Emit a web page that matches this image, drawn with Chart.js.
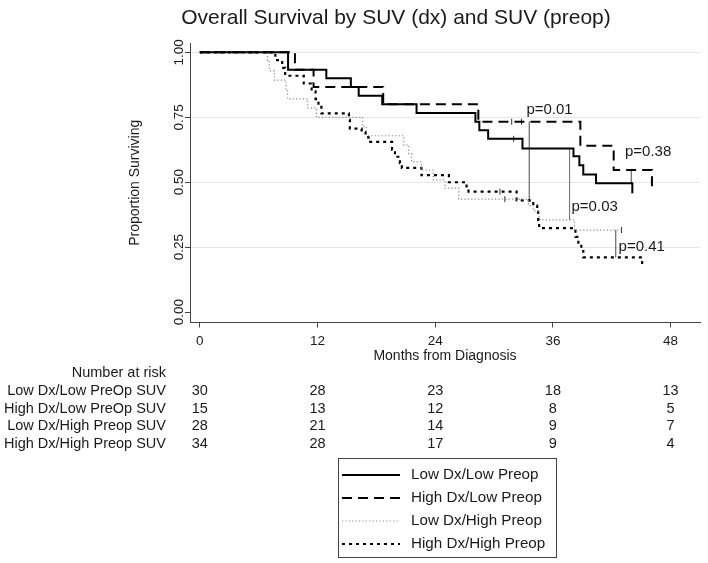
<!DOCTYPE html>
<html><head><meta charset="utf-8">
<script src="https://cdn.jsdelivr.net/npm/chart.js@4.4.1/dist/chart.umd.min.js"></script>
<style>html,body{margin:0;padding:0;background:#fff;}#wrap{width:708px;height:563px;}</style>
</head><body><div id="wrap"><canvas id="c" width="708" height="563"></canvas></div>
<script>
const FONT = '"Liberation Sans", Arial, Helvetica, sans-serif';
const titleText = 'Overall Survival by SUV (dx) and SUV (preop)';
const xTitle = 'Months from Diagnosis';
const yTitle = 'Proportion Surviving';
const xTicks = [0, 12, 24, 36, 48];
const yTicks = [0, 0.25, 0.5, 0.75, 1];
const seriesNames = ['Low Dx/Low Preop', 'High Dx/Low Preop', 'Low Dx/High Preop', 'High Dx/High Preop'];

// Kaplan-Meier step curves (time in months, survival proportion)
const lowLowT = [0, 9.0, 12.9, 15.4, 16.2, 18.6, 22.1, 28.1, 28.5, 29.4, 32.9, 38.1, 38.7, 39.1, 40.4, 44.1];
const lowLowS = [1, 0.933, 0.90, 0.867, 0.833, 0.80, 0.767, 0.733, 0.70, 0.667, 0.63, 0.60, 0.565, 0.53, 0.496, 0.458];
const highLowT = [0, 9.7, 11.6, 18.7, 28.4, 38.8, 42.2, 46.1];
const highLowS = [1, 0.933, 0.867, 0.80, 0.733, 0.64, 0.547, 0.464];
const lowHighT = [0, 6.9, 7.1, 7.6, 8.8, 8.95, 11.0, 11.9, 16.6, 17.0, 20.8, 21.3, 21.6, 22.6, 23.8, 25.0, 26.4, 33.5, 34.0, 34.6, 38.2, 43.0];
const lowHighS = [1, 0.964, 0.929, 0.893, 0.857, 0.821, 0.786, 0.75, 0.714, 0.679, 0.643, 0.61, 0.578, 0.547, 0.509, 0.477, 0.435, 0.41, 0.39, 0.355, 0.316, 0.316];
const highHighT = [0, 7.7, 8.4, 8.7, 10.6, 11.4, 11.8, 12.1, 12.4, 15.2, 15.3, 16.5, 16.9, 17.2, 19.6, 19.9, 20.4, 20.6, 22.6, 25.4, 27.2, 27.4, 32.3, 34.0, 34.4, 34.5, 34.6, 38.3, 38.6, 38.9, 39.1, 45.1];
const highHighS = [1, 0.97, 0.94, 0.91, 0.88, 0.85, 0.82, 0.79, 0.765, 0.74, 0.706, 0.693, 0.674, 0.655, 0.625, 0.598, 0.573, 0.555, 0.527, 0.50, 0.477, 0.464, 0.43, 0.41, 0.386, 0.355, 0.323, 0.29, 0.259, 0.235, 0.211, 0.175];

// censoring marks
const censorT = [32.0, 31.8, 32.8, 31.1, 43.0, 30.6];
const censorS = [0.667, 0.733, 0.733, 0.435, 0.316, 0.464];

// p-value comparison lines
const pLineT = [33.6, 37.7, 44.0, 42.4];
const pLineTop = [0.733, 0.63, 0.547, 0.316];
const pLineBottom = [0.425, 0.355, 0.496, 0.211];
const pLabels = ['p=0.01', 'p=0.03', 'p=0.38', 'p=0.41'];
const pLabelT = [33.3, 37.9, 43.35, 42.7];
const pLabelS = [0.777, 0.406, 0.618, 0.252];

// number at risk table
const riskHeader = 'Number at risk';
const riskLabels = ['Low Dx/Low PreOp SUV', 'High Dx/Low PreOp SUV', 'Low Dx/High Preop SUV', 'High Dx/High Preop SUV'];
const riskTimes = [0, 12, 24, 36, 48];
const riskLowLow = [30, 28, 23, 18, 13];
const riskHighLow = [15, 13, 12, 8, 5];
const riskLowHigh = [28, 21, 14, 9, 7];
const riskHighHigh = [34, 28, 17, 9, 4];

const zip = (t, s) => t.map((v, i) => ({x: v, y: s[i]}));
const styles = [
  {borderColor: '#000', borderWidth: 2, borderDash: []},
  {borderColor: '#000', borderWidth: 2, borderDash: [10, 6]},
  {borderColor: '#8a8a8a', borderWidth: 1.2, borderDash: [1.2, 2.2]},
  {borderColor: '#000', borderWidth: 2.2, borderDash: [3, 4]}
];
const kmSets = [[lowLowT, lowLowS], [highLowT, highLowS], [lowHighT, lowHighS], [highHighT, highHighS]];
const datasets = kmSets.map((d, i) => Object.assign({
  label: seriesNames[i], data: zip(d[0], d[1]), stepped: true, pointRadius: 0, fill: false, borderCapStyle: 'butt'
}, styles[i]));
pLineT.forEach((t, i) => datasets.push({
  label: 'p' + i, data: [{x: t, y: pLineTop[i]}, {x: t, y: pLineBottom[i]}],
  borderColor: '#7a7a7a', borderWidth: 1, pointRadius: 0, fill: false
}));
datasets.push({
  label: 'censor', data: zip(censorT, censorS), showLine: false,
  pointStyle: 'line', rotation: 90, pointRadius: 3, borderColor: '#333', borderWidth: 1
});

const annot = {
  id: 'annot',
  afterDraw(chart) {
    const {ctx, scales: {x, y}} = chart;
    ctx.save();
    ctx.fillStyle = '#1a1a1a';
    ctx.textBaseline = 'middle';
    ctx.font = '21px ' + FONT;
    ctx.textAlign = 'center';
    ctx.fillText(titleText, 396, 18);
    ctx.font = '15px ' + FONT;
    ctx.textAlign = 'left';
    pLabels.forEach((l, i) => ctx.fillText(l, x.getPixelForValue(pLabelT[i]), y.getPixelForValue(pLabelS[i])));
    // risk table
    ctx.font = '14.5px ' + FONT;
    ctx.textAlign = 'right';
    ctx.fillText(riskHeader, 166, 373);
    const rows = [riskLowLow, riskHighLow, riskLowHigh, riskHighHigh];
    rows.forEach((r, i) => {
      const yy = 391 + i * 17.7;
      ctx.textAlign = 'right';
      ctx.fillText(riskLabels[i], 166, yy);
      ctx.textAlign = 'center';
      r.forEach((v, j) => ctx.fillText(String(v), x.getPixelForValue(riskTimes[j]), yy));
    });
    // legend
    ctx.strokeStyle = '#444';
    ctx.lineWidth = 1;
    ctx.setLineDash([]);
    ctx.strokeRect(338.5, 458.5, 218, 99);
    ctx.font = '15.2px ' + FONT;
    ctx.textAlign = 'left';
    for (let i = 0; i < 4; i++) {
      const ds = chart.data.datasets[i];
      const yy = 475 + i * 23;
      ctx.beginPath();
      ctx.strokeStyle = ds.borderColor;
      ctx.lineWidth = ds.borderWidth;
      ctx.setLineDash(ds.borderDash);
      ctx.moveTo(342, yy);
      ctx.lineTo(400, yy);
      ctx.stroke();
      ctx.setLineDash([]);
      ctx.fillText(seriesNames[i], 411, yy);
    }
    ctx.restore();
  }
};

new Chart(document.getElementById('c'), {
  type: 'line',
  data: {datasets},
  plugins: [annot],
  options: {
    responsive: false, animation: false, devicePixelRatio: 1,
    layout: {padding: {left: 0, right: 8, top: 43, bottom: 195.5}},
    plugins: {legend: {display: false}, tooltip: {enabled: false}, title: {display: false}},
    scales: {
      x: {
        type: 'linear', min: -1, max: 51,
        afterBuildTicks: s => { s.ticks = xTicks.map(v => ({value: v})); },
        afterFit: s => { s.height = 45; },
        grid: {drawOnChartArea: false, drawTicks: true, tickLength: 5, tickColor: '#444'},
        border: {color: '#444', width: 1},
        ticks: {font: {family: FONT, size: 13.5}, color: '#1a1a1a', padding: 6, maxRotation: 0, autoSkip: false},
        title: {display: true, text: xTitle, font: {family: FONT, size: 14}, color: '#1a1a1a', padding: {top: 0, bottom: 2.5}}
      },
      y: {
        type: 'linear', min: -0.04, max: 1.036,
        afterBuildTicks: s => { s.ticks = yTicks.map(v => ({value: v})); },
        afterFit: s => { s.width = 190; },
        grid: {color: c => (c.tick && c.tick.value === 0) ? 'rgba(0,0,0,0)' : '#e2e8e8', tickColor: '#444', tickLength: 5, lineWidth: 1},
        border: {color: '#444', width: 1},
        ticks: {font: {family: FONT, size: 13.5}, color: '#1a1a1a', minRotation: 90, maxRotation: 90, crossAlign: 'center', padding: -7,
          callback: v => Number(v).toFixed(2)},
        title: {display: true, text: yTitle, font: {family: FONT, size: 14}, color: '#1a1a1a', padding: {top: 126.6, bottom: 0}}
      }
    }
  }
});
</script></body></html>
